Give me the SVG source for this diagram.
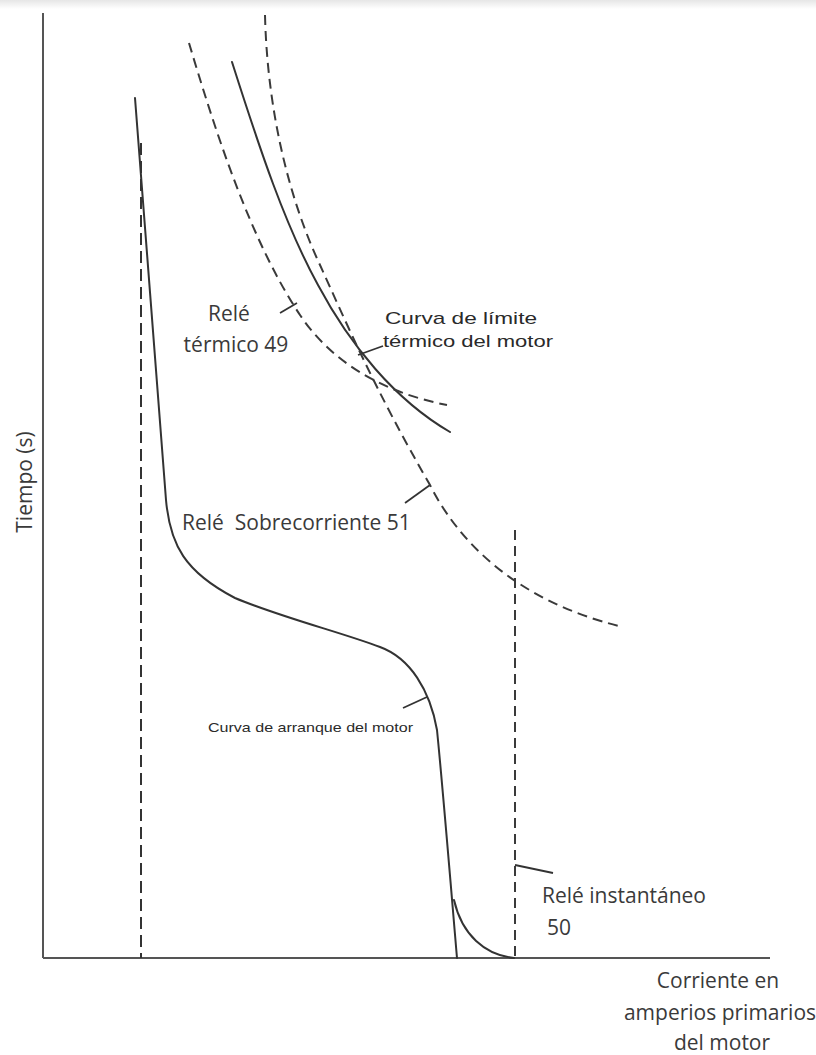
<svg xmlns="http://www.w3.org/2000/svg" width="816" height="1055" viewBox="0 0 816 1055">
<defs>
<linearGradient id="topband" x1="0" y1="0" x2="0" y2="1">
<stop offset="0" stop-color="#e6e6e6"/>
<stop offset="1" stop-color="#ffffff"/>
</linearGradient>
<style>
.axis{stroke:#555;stroke-width:2;fill:none}
.solid{stroke:#333;stroke-width:2;fill:none;stroke-linecap:round}
.dash{stroke:#3a3a3a;stroke-width:2;fill:none;stroke-dasharray:10 6}
.vdash{stroke:#333;stroke-width:2;fill:none;stroke-dasharray:12 6}
.tick{stroke:#333;stroke-width:1.8;fill:none}
.lbl{font-family:"Open Sans","DejaVu Sans",sans-serif;font-size:21px;fill:#3a3a3a}
.arial{font-family:"Liberation Sans",Arial,sans-serif;fill:#2a2a2a}
</style>
</defs>
<rect x="0" y="0" width="816" height="1055" fill="#ffffff"/>
<rect x="0" y="0" width="816" height="9" fill="url(#topband)"/>
<g id="axes">
<line class="axis" x1="43" y1="13" x2="43" y2="958"/>
<line class="axis" x1="43" y1="958" x2="770" y2="958" stroke-width="2.5"/>
<text class="lbl" transform="translate(32,482) rotate(-90)" text-anchor="middle">Tiempo (s)</text>
<text class="lbl" x="718" y="988" text-anchor="middle">Corriente en</text>
<text class="lbl" x="720" y="1020" text-anchor="middle">amperios primarios</text>
<text class="lbl" x="722" y="1050" text-anchor="middle">del motor</text>
</g>
<g id="connectors">
<path class="tick" d="M280,313 L297,303"/>
<path class="tick" d="M358,355 L383,346"/>
<path class="tick" d="M405,503 L430,485"/>
<path class="tick" d="M403,708 L427,697"/>
<path class="tick" d="M515,865 L553,873"/>
</g>
<g id="curva-arranque">
<path class="solid" d="M135,98 C142,190 160,420 166,500 C170,545 185,572 235,598 C280,617 340,632 380,647 C410,658 430,690 437,730 C443,790 452,900 457,958"/>
<path class="solid" d="M454,900 C462,935 485,955 514,958"/>
<text class="arial" x="208" y="732" font-size="13" textLength="205" lengthAdjust="spacingAndGlyphs">Curva de arranque del motor</text>
</g>
<g id="limite-termico">
<path class="solid" d="M232,62 C260,150 285,225 318,285 C350,345 395,400 450,432"/>
<text class="arial" x="385" y="324" font-size="17" textLength="152" lengthAdjust="spacingAndGlyphs">Curva de límite</text>
<text class="arial" x="383" y="347" font-size="17" textLength="170" lengthAdjust="spacingAndGlyphs">térmico del motor</text>
</g>
<g id="rele-termico-49">
<path class="dash" d="M189,43 C215,130 250,240 300,315 C330,360 380,392 447,405"/>
<text class="lbl" x="229" y="321" text-anchor="middle">Relé</text>
<text class="lbl" x="236" y="352" text-anchor="middle">térmico 49</text>
</g>
<g id="rele-sobrecorriente-51">
<path class="dash" d="M265,15 C267,100 285,190 320,265 C345,320 375,390 430,485 C455,535 510,600 623,627"/>
<text class="lbl" x="182" y="530">Relé&#160; Sobrecorriente 51</text>
</g>
<g id="rele-termico-vertical">
<line class="vdash" x1="141" y1="143" x2="141" y2="958"/>
</g>
<g id="rele-instantaneo-50">
<line class="dash" x1="515" y1="530" x2="515" y2="958" stroke-width="1.8"/>
<text class="lbl" x="542" y="903">Relé instantáneo</text>
<text class="lbl" x="547" y="935">50</text>
</g>
</svg>
